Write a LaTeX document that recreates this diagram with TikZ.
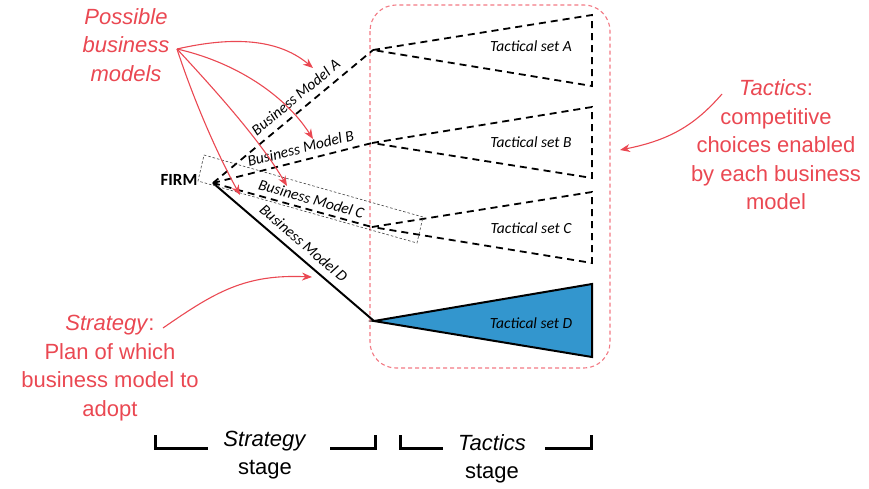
\documentclass[tikz,border=0pt]{standalone}
\usepackage{fontspec}
\setmainfont{Liberation Sans}
\newfontfamily\calfont{Carlito}
\usetikzlibrary{arrows.meta}
\definecolor{myred}{RGB}{234,72,82}
\definecolor{boxred}{RGB}{242,122,132}
\definecolor{setblue}{RGB}{51,150,206}
\begin{document}
\begin{tikzpicture}[x=1pt,y=-1pt,
  redtext/.style={text=myred,align=center,font=\fontsize{22}{28.5}\selectfont,inner sep=0pt},
  blacktext/.style={text=black,align=center,font=\fontsize{22}{27.5}\selectfont,inner sep=0pt},
  redarrow/.style={draw=myred,line width=1.1pt,-{Stealth[length=10pt,width=8pt]}},
  dashline/.style={draw=black,line width=1.8pt,dash pattern=on 7pt off 5pt},
  bmlabel/.style={sloped,above,font=\calfont\itshape\fontsize{15.5}{17}\selectfont,inner sep=2pt},
  setlabel/.style={font=\calfont\itshape\fontsize{15.5}{17}\selectfont,inner sep=0pt},
  bracket/.style={draw=black,line width=3pt}
]
\useasboundingbox (0,0) rectangle (869,488);

% tactics region
\draw[boxred,line width=1.1pt,dash pattern=on 4pt off 3pt,rounded corners=26pt] (370,5) rectangle (610,368);

% key points
\coordinate (firm) at (213,183);
\coordinate (aA) at (373,50);
\coordinate (aB) at (372,143);
\coordinate (aC) at (372,227);
\coordinate (aD) at (374,321);
\coordinate (tA1) at (592,15);  \coordinate (tA2) at (592,86);
\coordinate (tB1) at (592,107); \coordinate (tB2) at (592,178);
\coordinate (tC1) at (592,192); \coordinate (tC2) at (592,263);
\coordinate (tD1) at (592,284); \coordinate (tD2) at (592,357);

\node[font=\calfont\bfseries\fontsize{17}{19}\selectfont,inner sep=0pt] (firmlabel) at (179,180) {FIRM};

% tactical sets
\draw[dashline] (aA) -- (tA1) -- (tA2) -- cycle;
\draw[dashline] (aB) -- (tB1) -- (tB2) -- cycle;
\draw[dashline] (aC) -- (tC1) -- (tC2) -- cycle;
\draw[black,line width=2pt,fill=setblue,line join=miter] (aD) -- (tD1) -- (tD2) -- cycle;

\node[setlabel] (setA) at (531,46) {Tactical set A};
\node[setlabel] (setB) at (531,142) {Tactical set B};
\node[setlabel] (setC) at (531,228) {Tactical set C};
\node[setlabel] (setD) at (531,323) {Tactical set D};

% business models
\draw[dashline] (firm) -- node[bmlabel,pos=0.57,inner sep=7pt] {Business Model A} (aA);
\draw[dashline] (firm) -- node[bmlabel,pos=0.57,inner sep=6pt] {Business Model B} (aB);
\draw[dashline] (firm) -- node[bmlabel,pos=0.60,inner sep=4.5pt] {Business Model C} (aC);
\draw[black,line width=2pt] (firm) -- node[bmlabel,pos=0.51,inner sep=7pt] {Business Model D} (aD);

% highlight box round model C
\draw[black!75,line width=0.6pt,dash pattern=on 2.5pt off 2pt] (204,155) -- (423,217) -- (417,243) -- (198,181) -- cycle;

% red annotations
\node[redtext] (pbm) at (126,45) {\itshape Possible\\\itshape business\\\itshape models};
\coordinate (pbmout) at (177,49);
\coordinate (tipA) at (313,68);
\coordinate (tipB) at (313,139);
\coordinate (tipC) at (287,186);
\coordinate (tipD) at (240,195);
\draw[redarrow] (pbmout) .. controls (225,38) and (275,36) .. (tipA);
\draw[redarrow] (pbmout) .. controls (235,62) and (285,95) .. (tipB);
\draw[redarrow] (pbmout) .. controls (215,90) and (260,140) .. (tipC);
\draw[redarrow] (pbmout) .. controls (192,95) and (215,150) .. (tipD);

\node[redtext] (tact) at (776,145) {\textit{Tactics}:\\competitive\\choices enabled\\by each business\\model};
\coordinate (tactout) at (722,94);
\coordinate (tacttip) at (620,150);
\draw[redarrow] (tactout) .. controls (695,125) and (670,140) .. (tacttip);

\node[redtext] (strat) at (110,368) {\textit{Strategy}:\\Plan of which\\business model to\\adopt};
\coordinate (stratout) at (163,328);
\coordinate (strattip) at (312,277);
\draw[redarrow] (stratout) .. controls (215,292) and (245,274) .. (strattip);

% stage brackets
\draw[bracket] (155,435) -- (155,448.5) -- (208,448.5);
\draw[bracket] (330,448.5) -- (375,448.5) -- (375,435);
\draw[bracket] (400,435) -- (400,448.5) -- (443,448.5);
\draw[bracket] (545,448.5) -- (591,448.5) -- (591,435);
\node[blacktext] (sstage) at (265,455) {\textit{Strategy}\\stage};
\node[blacktext] (tstage) at (492,459) {\textit{Tactics}\\stage};
\end{tikzpicture}
\end{document}
